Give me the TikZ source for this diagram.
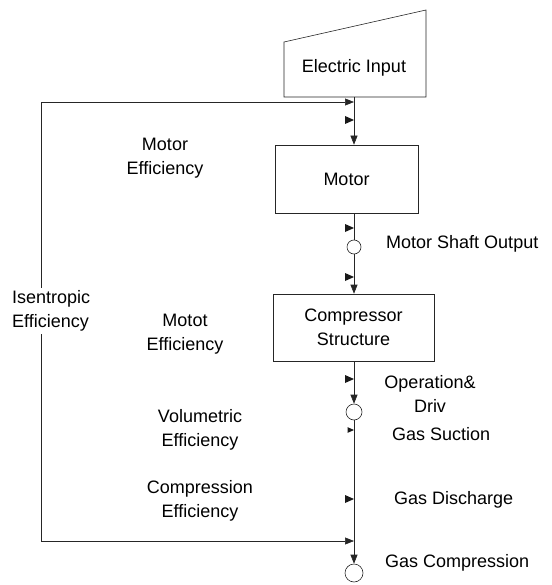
\documentclass[tikz,border=0pt]{standalone}
\usepackage{fontspec}
\setmainfont{Liberation Sans}
\usetikzlibrary{arrows.meta, positioning}

\begin{document}
\begin{tikzpicture}[x=1pt,y=-1pt,font=\fontsize{18}{24}\selectfont]
% Define styles
\tikzstyle{block}=[rectangle, draw=black!85, line width=0.6pt, inner sep=0pt, align=center]
\tikzstyle{port}=[circle, draw=black!85, line width=0.6pt, inner sep=0pt, fill=white]
\tikzstyle{flow}=[line width=0.6pt, draw=black!85]
\tikzstyle{arrow}=[flow,->,>={Triangle[length=9pt,width=7pt]}]
\tikzstyle{note}=[align=center, inner sep=0pt]
\tikzset{inmark/.pic={\fill[black!90] (0,0) -- (-9,-4) -- (-9,4) -- cycle;}}
\useasboundingbox (0,0) rectangle (551,585);
% Place nodes
\node[note] (elec) at (354,68) {Electric Input};
\draw[flow] (284,97) -- (284,42) -- (426,10) -- (426,97) -- cycle;
\coordinate (elecb) at (354,97);
\node[block, minimum width=143pt, minimum height=68pt] (motor) at (346.5,179) {Motor};
\node[port, minimum size=14pt] (shaft) at (354,247) {};
\node[block, minimum width=161pt, minimum height=67pt] (comp) at (353.5,327.5) {Compressor\\Structure};
\node[port, minimum size=16pt] (suction) at (354,412) {};
\node[port, minimum size=18pt] (compr) at (354,573) {};
% Draw arrows
\draw[arrow] (elecb) -- (elecb |- motor.north);
\draw[flow] (motor.south -| shaft) -- (shaft);
\draw[arrow] (shaft) -- (shaft |- comp.north);
\draw[arrow] (comp.south -| suction) -- (suction);
\draw[arrow] (suction) -- (compr);
% Feedback loop
\coordinate (fbin) at (354,102);
\coordinate (fbout) at (354,541);
\coordinate (loopsw) at (41,541);
\draw[arrow,<->] (fbin) -| (loopsw) -- (fbout);
% Flow marks
\foreach \y in {120,228,277,379,499}
  \pic at (354,\y) {inmark};
\pic[scale=0.7] at (354,430) {inmark};
% Labels
\node[note] (effmotor) at (165,158) {Motor\\Efficiency};
\node[note, align=left, anchor=west, fill=white, inner ysep=3pt] (effisen) at (12,311) {Isentropic\\Efficiency};
\node[note] (effmotot) at (185,334) {Motot\\Efficiency};
\node[note] (effvol) at (200,430) {Volumetric\\Efficiency};
\node[note] (effcomp) at (200,501) {Compression\\Efficiency};
\node[note, anchor=west] (lshaft) at (386,244) {Motor Shaft Output};
\node[note] (ldrive) at (430,394) {Operation\&\\Driv};
\node[note, anchor=west] (lsuction) at (392,434) {Gas Suction};
\node[note, anchor=west] (ldischarge) at (394,500) {Gas Discharge};
\node[note, anchor=west] (lcompr) at (385,563) {Gas Compression};
\end{tikzpicture}
\end{document}
